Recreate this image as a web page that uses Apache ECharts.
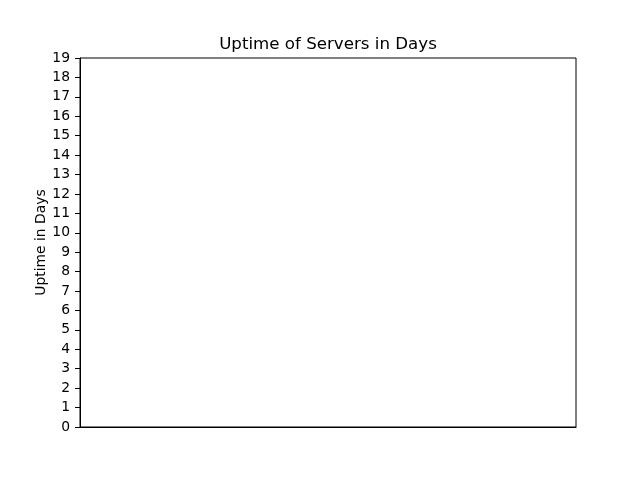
<!DOCTYPE html>
<html>
<head>
<meta charset="utf-8">
<script src="https://cdn.jsdelivr.net/npm/echarts@6/dist/echarts.min.js"></script>
<style>html,body{margin:0;padding:0;background:#fff}#c{width:640px;height:480px}</style>
</head>
<body>
<div id="c"></div>
<script>
// Data: the reference chart contains no servers / no bars
const servers = [];
const uptimeDays = [];
const yTicks = [0,1,2,3,4,5,6,7,8,9,10,11,12,13,14,15,16,17,18,19];
const titleText = 'Uptime of Servers in Days';
const yName = 'Uptime in Days';

const chart = echarts.init(document.getElementById('c'), null, {renderer: 'canvas'});
const font = 'DejaVu Sans';
chart.setOption({
  animation: false,
  backgroundColor: '#ffffff',
  title: {
    text: titleText,
    left: 323, top: 31, textAlign: 'center',
    textStyle: {fontFamily: font, fontSize: 16.67, fontWeight: 'normal', color: '#000'}
  },
  grid: {left: 80, right: 64, top: 58, bottom: 53, show: true, borderColor: '#000', borderWidth: 1, containLabel: false},
  xAxis: {
    type: 'category', data: servers,
    axisLine: {show: true, lineStyle: {color: '#000', width: 1}},
    axisTick: {show: false}, axisLabel: {show: false}, splitLine: {show: false}
  },
  yAxis: {
    type: 'value', min: yTicks[0], max: yTicks[yTicks.length-1], interval: 1,
    name: yName, nameLocation: 'middle', nameGap: 32, nameRotate: 90, nameMoveOverlap: false,
    nameTextStyle: {fontFamily: font, fontSize: 13.89, color: '#000'},
    axisLine: {show: true, lineStyle: {color: '#000', width: 1}},
    axisTick: {show: true, inside: false, length: 5, lineStyle: {color: '#000', width: 1}},
    axisLabel: {fontFamily: font, fontSize: 13.89, color: '#000', margin: 10},
    splitLine: {show: false}
  },
  series: [{type: 'bar', data: uptimeDays, itemStyle: {color: '#1f77b4'}}]
});
</script>
</body>
</html>
